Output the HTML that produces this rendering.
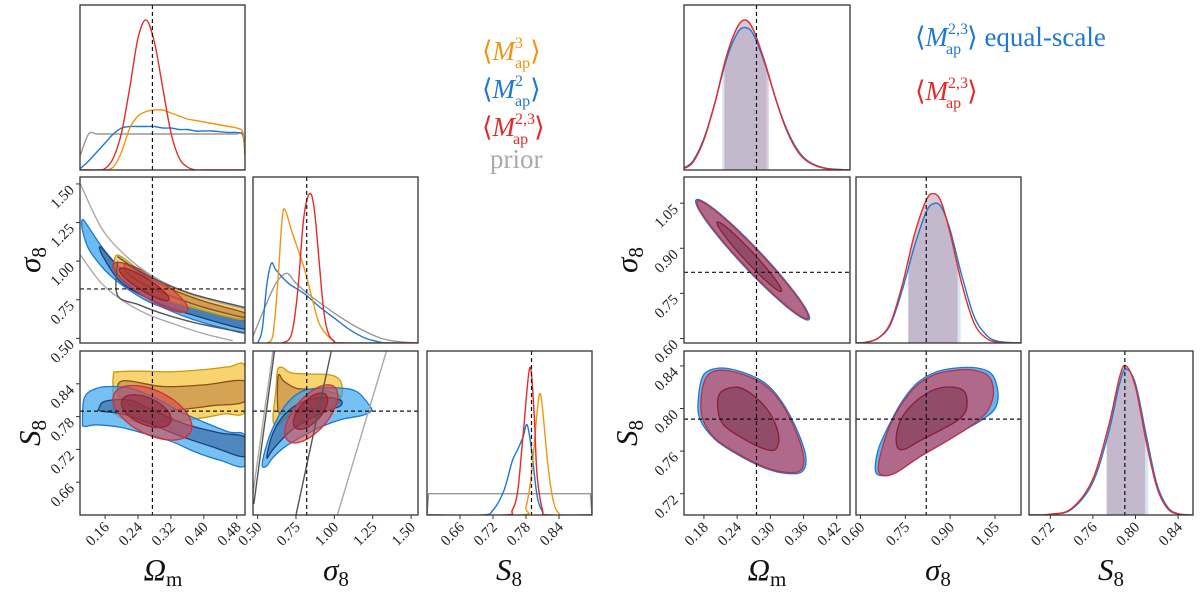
<!DOCTYPE html>
<html><head><meta charset="utf-8"><style>
html,body{margin:0;padding:0;background:#fff;}
svg{display:block;font-family:"Liberation Serif",serif;}
</style></head><body>
<svg id="chart" width="1200" height="596" viewBox="0 0 1200 596" xmlns="http://www.w3.org/2000/svg">
<g id="legend-left" font-size="27">
  <text x="482" y="60" fill="#f39410">⟨<tspan font-style="italic">M</tspan><tspan font-size="16" dy="-12">3</tspan><tspan font-size="16" dx="-8" dy="20">ap</tspan><tspan dy="-8">⟩</tspan></text>
  <text x="482" y="98" fill="#1f78d1">⟨<tspan font-style="italic">M</tspan><tspan font-size="16" dy="-12">2</tspan><tspan font-size="16" dx="-8" dy="20">ap</tspan><tspan dy="-8">⟩</tspan></text>
  <text x="482" y="136" fill="#e32b2b">⟨<tspan font-style="italic">M</tspan><tspan font-size="16" dy="-12">2,3</tspan><tspan font-size="16" dx="-22" dy="20">ap</tspan><tspan dy="-8" dx="6">⟩</tspan></text>
  <text x="490" y="168" fill="#aaaaaa">prior</text>
</g>
<g id="legend-right" font-size="27">
  <text x="915" y="46" fill="#1f78d1">⟨<tspan font-style="italic">M</tspan><tspan font-size="16" dy="-12">2,3</tspan><tspan font-size="16" dx="-22" dy="20">ap</tspan><tspan dy="-8" dx="6">⟩</tspan> equal-scale</text>
  <text x="915" y="100" fill="#e32b2b">⟨<tspan font-style="italic">M</tspan><tspan font-size="16" dy="-12">2,3</tspan><tspan font-size="16" dx="-22" dy="20">ap</tspan><tspan dy="-8" dx="6">⟩</tspan></text>
</g>
</svg>
<script>
// ---------- data ----------
const truthOm = 0.275, truthS8sig = 0.82, truthS8 = 0.79;
const ticksOmL = [0.16,0.24,0.32,0.40,0.48];
const ticksSigL = [0.50,0.75,1.00,1.25,1.50];
const ticksS8L = [0.66,0.72,0.78,0.84];
const ticksOmR = [0.18,0.24,0.30,0.36,0.42];
const ticksSigR = [0.60,0.75,0.90,1.05];
const ticksS8R = [0.72,0.76,0.80,0.84];

// left 1D Omega_m
const omGridL = [0.10,0.12,0.14,0.16,0.18,0.20,0.22,0.24,0.26,0.28,0.30,0.32,0.34,0.36,0.38,0.40,0.42,0.44,0.46,0.48,0.495,0.50];
const omRed = [0,0,0,0.01,0.08,0.25,0.55,0.88,1.0,0.85,0.55,0.25,0.08,0.02,0,0,0,0,0,0,0,0];
const omOrange = [0,0,0,0,0.02,0.12,0.28,0.36,0.39,0.40,0.40,0.38,0.36,0.34,0.33,0.32,0.31,0.30,0.29,0.28,0.25,0.10];
const omBlue = [0.01,0.06,0.12,0.18,0.24,0.28,0.29,0.29,0.29,0.29,0.28,0.28,0.27,0.27,0.26,0.26,0.26,0.255,0.25,0.25,0.23,0.10];
const omPrior = [0.10,0.24,0.24,0.24,0.24,0.24,0.24,0.24,0.24,0.24,0.24,0.24,0.24,0.24,0.24,0.24,0.24,0.24,0.24,0.24,0.24,0.10];

// left 1D sigma8
const sigRedX = [0.66,0.72,0.76,0.80,0.84,0.87,0.90,0.93,0.96,1.00,1.04,1.54];
const sigRedY = [0,0.05,0.3,0.75,0.90,0.8,0.5,0.2,0.06,0.01,0,0];
const sigOrX = [0.56,0.60,0.63,0.66,0.68,0.72,0.80,0.86,0.90,0.95,1.00,1.05,1.54];
const sigOrY = [0,0.05,0.35,0.75,0.80,0.68,0.46,0.25,0.12,0.05,0.01,0,0];
const sigBlX = [0.50,0.53,0.56,0.59,0.62,0.70,0.80,0.90,1.00,1.10,1.20,1.30,1.35,1.54];
const sigBlY = [0,0.08,0.35,0.48,0.44,0.36,0.30,0.22,0.15,0.08,0.03,0.005,0,0];
const sigGrX = [0.47,0.55,0.62,0.69,0.75,0.85,1.0,1.1,1.2,1.3,1.4,1.54];
const sigGrY = [0.04,0.22,0.36,0.42,0.36,0.28,0.18,0.12,0.07,0.03,0.01,0];

// left 1D S8
const s8RedX = [0.60,0.74,0.755,0.765,0.775,0.787,0.795,0.80,0.81,0.82,0.90];
const s8RedY = [0,0,0.03,0.15,0.5,0.9,0.6,0.25,0.03,0,0];
const s8OrX = [0.60,0.77,0.78,0.79,0.80,0.805,0.81,0.82,0.83,0.84,0.85,0.90];
const s8OrY = [0,0,0.05,0.25,0.62,0.74,0.65,0.3,0.08,0.01,0,0];
const s8BlX = [0.60,0.70,0.72,0.74,0.755,0.765,0.775,0.782,0.79,0.80,0.81,0.82,0.90];
const s8BlY = [0,0,0.03,0.15,0.33,0.40,0.48,0.55,0.40,0.12,0.02,0,0];
const s8PrX = [0.60,0.603,0.897,0.90];
const s8PrY = [0,0.13,0.13,0];

// left 2D contours (Omega_m, sigma8)
const osBlueOut = [[0.105,1.27],[0.12,1.22],[0.15,1.10],[0.18,1.0],[0.22,0.91],[0.26,0.85],[0.30,0.79],[0.35,0.73],[0.40,0.68],[0.45,0.645],[0.50,0.61],[0.50,0.535],[0.45,0.565],[0.40,0.60],[0.35,0.645],[0.30,0.70],[0.26,0.745],[0.22,0.81],[0.18,0.89],[0.15,0.97],[0.12,1.08],[0.105,1.2]];
const osBlueIn = [[0.15,1.09],[0.2,0.95],[0.28,0.82],[0.35,0.74],[0.5,0.625],[0.5,0.56],[0.35,0.67],[0.28,0.74],[0.2,0.86],[0.155,1.03]];
const osOrOut = [[0.19,1.04],[0.25,0.93],[0.30,0.86],[0.38,0.775],[0.50,0.69],[0.50,0.62],[0.40,0.68],[0.30,0.76],[0.24,0.84],[0.19,0.93]];
const osOrIn = [[0.21,0.98],[0.26,0.90],[0.32,0.82],[0.40,0.74],[0.50,0.665],[0.50,0.635],[0.40,0.70],[0.32,0.775],[0.26,0.84],[0.215,0.92]];
const osGreyA = [[0.10,1.50],[0.15,1.22],[0.20,1.06],[0.26,0.93],[0.32,0.84],[0.40,0.76],[0.50,0.69]];
const osGreyB = [[0.10,1.04],[0.15,0.86],[0.20,0.75],[0.26,0.66],[0.32,0.60],[0.40,0.53],[0.47,0.485]];
const osGreyC = [[0.19,1.03],[0.24,0.94],[0.30,0.86],[0.38,0.78],[0.50,0.70]];
const osGreyD = [[0.19,1.00],[0.19,0.78],[0.24,0.72],[0.30,0.66],[0.38,0.60],[0.50,0.535]];
const osRedOut = {c:[0.27,0.83], a:[0.09,-0.15], b:[-0.014,-0.06]};
const osRedIn = {c:[0.255,0.85], a:[0.06,-0.10], b:[-0.008,-0.035]};

// left 2D (Omega_m, S8)
const oSBlueOut = [[0.105,0.77],[0.11,0.815],[0.14,0.832],[0.18,0.835],[0.22,0.832],[0.28,0.815],[0.34,0.79],[0.40,0.77],[0.46,0.752],[0.50,0.745],[0.50,0.69],[0.44,0.70],[0.38,0.715],[0.32,0.735],[0.26,0.748],[0.20,0.76],[0.14,0.765],[0.11,0.762]];
const oSBlueIn = [[0.145,0.795],[0.16,0.808],[0.22,0.81],[0.28,0.79],[0.36,0.765],[0.44,0.75],[0.50,0.742],[0.50,0.707],[0.42,0.725],[0.34,0.745],[0.26,0.77],[0.20,0.785],[0.15,0.79]];
const oSOrOut = [[0.18,0.855],[0.19,0.862],[0.25,0.863],[0.32,0.862],[0.40,0.866],[0.46,0.871],[0.50,0.872],[0.50,0.790],[0.45,0.785],[0.40,0.778],[0.34,0.772],[0.28,0.770],[0.22,0.772],[0.185,0.785],[0.18,0.80]];
const oSOrIn = [[0.20,0.845],[0.30,0.835],[0.40,0.838],[0.50,0.845],[0.50,0.808],[0.42,0.80],[0.34,0.793],[0.26,0.795],[0.20,0.81]];
const oSRedOut = {c:[0.275,0.787], a:[0.095,-0.03], b:[0.012,0.04]};
const oSRedIn = {c:[0.26,0.79], a:[0.06,-0.018], b:[0.008,0.024]};

// left 2D (sigma8, S8)
const sSOrOut = [[0.60,0.775],[0.62,0.83],[0.63,0.865],[0.66,0.870],[0.72,0.86],[0.85,0.858],[0.98,0.856],[1.04,0.845],[1.05,0.82],[1.0,0.80],[0.90,0.79],[0.80,0.79],[0.70,0.78],[0.63,0.765]];
const sSOrIn = [[0.63,0.80],[0.635,0.855],[0.67,0.845],[0.75,0.832],[0.85,0.83],[0.98,0.825],[1.04,0.815],[1.0,0.80],[0.85,0.795],[0.72,0.79],[0.65,0.785]];
const sSBlueOut = [[0.53,0.69],[0.55,0.72],[0.60,0.76],[0.68,0.80],[0.78,0.825],[0.90,0.832],[1.05,0.832],[1.15,0.825],[1.23,0.80],[1.24,0.79],[1.18,0.782],[1.05,0.775],[0.92,0.762],[0.80,0.745],[0.68,0.725],[0.60,0.705],[0.56,0.69]];
const sSBlueIn = [[0.56,0.705],[0.60,0.75],[0.68,0.785],[0.80,0.808],[0.95,0.815],[1.04,0.81],[1.04,0.80],[0.95,0.79],[0.80,0.77],[0.70,0.75],[0.60,0.72]];
const sSGrey1 = [[0.47,0.64],[0.60,0.90]];
const sSGrey2 = [[0.475,0.62],[0.61,0.90]];
const sSGrey3 = [[0.75,0.60],[0.98,0.90]];
const sSGrey4 = [[1.02,0.60],[1.34,0.90]];
const sSRedOut = {c:[0.85,0.785], a:[0.17,0.04], b:[-0.03,0.035]};
const sSRedIn = {c:[0.845,0.79], a:[0.11,0.025], b:[-0.02,0.022]};

// right 1D
const rOmX = [0.144,0.16,0.18,0.20,0.22,0.24,0.255,0.27,0.29,0.31,0.33,0.35,0.37,0.40,0.444];
const rOmRed = [0.01,0.05,0.2,0.45,0.75,0.95,1.0,0.93,0.72,0.47,0.26,0.12,0.05,0.01,0];
const rOmBlue = [0.015,0.06,0.21,0.45,0.73,0.91,0.95,0.90,0.71,0.47,0.27,0.13,0.055,0.012,0];
const rOmBandRed = [0.217,0.297], rOmBandBlue = [0.213,0.293];
const rSigX = [0.585,0.62,0.66,0.70,0.74,0.78,0.82,0.845,0.87,0.90,0.94,0.98,1.02,1.06,1.137];
const rSigRed = [0,0.005,0.03,0.12,0.35,0.65,0.86,0.9,0.85,0.66,0.35,0.12,0.03,0.005,0];
const rSigBlue = [0,0.005,0.03,0.11,0.32,0.58,0.79,0.84,0.82,0.68,0.40,0.16,0.05,0.01,0];
const rSigBandRed = [0.76,0.925], rSigBandBlue = [0.76,0.935];
const rS8X = [0.70,0.72,0.74,0.76,0.775,0.785,0.791,0.80,0.81,0.82,0.83,0.84,0.854];
const rS8Red = [0,0.005,0.04,0.22,0.55,0.84,0.91,0.78,0.45,0.17,0.04,0.006,0];
const rS8Blue = [0,0.004,0.035,0.2,0.51,0.80,0.89,0.80,0.49,0.19,0.05,0.008,0];
const rS8BandRed = [0.773,0.809], rS8BandBlue = [0.773,0.812];

// right 2D
const rosOut = {c:[0.268,0.862], a:[0.10,-0.195], b:[0.013,0.022]};
const rosIn = {c:[0.262,0.872], a:[0.058,-0.115], b:[0.007,0.012]};
const rosBlueOut = {c:[0.268,0.862], a:[0.102,-0.199], b:[0.014,0.024]};
const roSOut = [[0.175,0.81],[0.185,0.83],[0.21,0.836],[0.25,0.832],[0.29,0.822],[0.32,0.805],[0.345,0.78],[0.36,0.755],[0.355,0.742],[0.33,0.74],[0.29,0.745],[0.24,0.758],[0.20,0.772],[0.178,0.79]];
const roSBlueOut = [[0.17,0.81],[0.18,0.832],[0.21,0.838],[0.25,0.834],[0.29,0.824],[0.32,0.807],[0.348,0.78],[0.364,0.755],[0.358,0.741],[0.33,0.739],[0.29,0.744],[0.24,0.757],[0.20,0.771],[0.173,0.79]];
const roSIn = [[0.205,0.80],[0.21,0.815],[0.24,0.82],[0.27,0.812],[0.30,0.795],[0.315,0.775],[0.31,0.762],[0.29,0.762],[0.25,0.772],[0.215,0.785]];
const rsSOut = [[0.66,0.742],[0.67,0.76],[0.70,0.785],[0.74,0.805],[0.79,0.822],[0.85,0.832],[0.92,0.836],[0.98,0.836],[1.03,0.83],[1.045,0.815],[1.03,0.80],[1.0,0.79],[0.95,0.78],[0.88,0.768],[0.80,0.755],[0.72,0.74],[0.68,0.737]];
const rsSBlueOut = [[0.65,0.742],[0.66,0.762],[0.70,0.787],[0.74,0.807],[0.79,0.824],[0.85,0.834],[0.92,0.838],[0.99,0.838],[1.04,0.832],[1.06,0.815],[1.05,0.80],[1.01,0.79],[0.95,0.78],[0.88,0.768],[0.80,0.755],[0.72,0.74],[0.67,0.737]];
const rsSIn = [[0.72,0.775],[0.74,0.792],[0.79,0.808],[0.85,0.818],[0.91,0.82],[0.95,0.815],[0.955,0.80],[0.93,0.79],[0.87,0.78],[0.80,0.77],[0.75,0.762],[0.725,0.763]];

// ---------- drawing ----------
const NS = "http://www.w3.org/2000/svg";
const svg = document.getElementById('chart');
function mk(tag, attrs, parent){ const e=document.createElementNS(NS,tag); for(const k in attrs) e.setAttribute(k,attrs[k]); (parent||svg).appendChild(e); return e; }

const colL = [[80,245],[253,418],[427,592]];
const colR = [[684,850],[856,1021],[1029,1193]];
const rows = [[5,170],[177,343],[351,515]];
const rngL = {om:[0.099,0.50], sig:[0.47,1.545], s8:[0.60,0.90]};
const rngR = {om:[0.144,0.444], sig:[0.585,1.137], s8:[0.70,0.854]};

function makePanel(name, px, py, xr, yr){
  const g = mk('g',{});
  
  
  const clipId = 'clip-'+name;
  const cp = mk('clipPath',{id:clipId}, g);
  mk('rect',{x:px[0],y:py[0],width:px[1]-px[0],height:py[1]-py[0]}, cp);
  const inner = mk('g',{'clip-path':'url(#'+clipId+')'}, g);
  return {g, inner, px, py, xr, yr,
    sx: v => px[0] + (v-xr[0])/(xr[1]-xr[0])*(px[1]-px[0]),
    sy: v => py[1] - (v-yr[0])/(yr[1]-yr[0])*(py[1]-py[0])};
}
function frame(P){
  const r = mk('rect',{x:P.px[0],y:P.py[0],width:P.px[1]-P.px[0],height:P.py[1]-P.py[0],fill:'none',stroke:'#333','stroke-width':1.3}, P.g);
  
  
}
// Catmull-Rom smoothing in pixel space
function smooth(pts, closed){
  const n = pts.length; if(n<3) return pts.map((p,i)=>(i?'L':'M')+p[0].toFixed(1)+','+p[1].toFixed(1)).join('')+(closed?'Z':'');
  const get = i => closed ? pts[(i+n)%n] : pts[Math.max(0,Math.min(n-1,i))];
  let d = 'M'+pts[0][0].toFixed(1)+','+pts[0][1].toFixed(1);
  const last = closed ? n : n-1;
  for(let i=0;i<last;i++){
    const p0=get(i-1),p1=get(i),p2=get(i+1),p3=get(i+2);
    const c1=[p1[0]+(p2[0]-p0[0])/6, p1[1]+(p2[1]-p0[1])/6];
    const c2=[p2[0]-(p3[0]-p1[0])/6, p2[1]-(p3[1]-p1[1])/6];
    d += 'C'+c1[0].toFixed(1)+','+c1[1].toFixed(1)+' '+c2[0].toFixed(1)+','+c2[1].toFixed(1)+' '+p2[0].toFixed(1)+','+p2[1].toFixed(1);
  }
  return d + (closed?'Z':'');
}
function px(P, pts){ return pts.map(p=>[P.sx(p[0]),P.sy(p[1])]); }
function ellPts(E){ const pts=[]; for(let i=0;i<72;i++){const t=i/72*2*Math.PI; pts.push([E.c[0]+E.a[0]*Math.cos(t)+E.b[0]*Math.sin(t), E.c[1]+E.a[1]*Math.cos(t)+E.b[1]*Math.sin(t)]);} return pts; }
function contour(P, pts, fill, op, stroke, name){
  const e = mk('path',{d:smooth(px(P,pts),true),fill:fill,'fill-opacity':op,stroke:stroke,'stroke-width':1.3}, P.inner);
  
  
}
function line(P, xs, ys, color, name, w, nosmooth){
  const pts = xs.map((x,i)=>[P.sx(x),P.sy(ys[i])]);
  const d = nosmooth ? pts.map((p,i)=>(i?'L':'M')+p[0].toFixed(1)+','+p[1].toFixed(1)).join('') : smooth(pts,false);
  const e = mk('path',{d, fill:'none', stroke:color, 'stroke-width':w||1.4}, P.inner);
  
  
}
function pline(P, pts, color, name, w){ line(P, pts.map(p=>p[0]), pts.map(p=>p[1]), color, name, w); }
function band(P, xs, ys, lo, hi, color, name){
  const interp = v => { for(let i=1;i<xs.length;i++){ if(v<=xs[i]){const t=(v-xs[i-1])/(xs[i]-xs[i-1]); return ys[i-1]+t*(ys[i]-ys[i-1]);} } return 0; };
  const pts=[[lo,interp(lo)]];
  xs.forEach((x,i)=>{ if(x>lo && x<hi) pts.push([x,ys[i]]); });
  pts.push([hi,interp(hi)]);
  const pp = px(P,pts);
  let d = smooth(pp,false) + 'L'+P.sx(hi).toFixed(1)+','+P.sy(0).toFixed(1)+'L'+P.sx(lo).toFixed(1)+','+P.sy(0).toFixed(1)+'Z';
  const e = mk('path',{d,fill:color,'fill-opacity':0.35,stroke:'none'}, P.inner);
  
  
}
function vtruth(P, v){ const x=P.sx(v); const e=mk('line',{x1:x,x2:x,y1:P.py[0],y2:P.py[1],stroke:'#111','stroke-width':1.2,'stroke-dasharray':'4,3'}, P.inner);   }
function htruth(P, v){ const y=P.sy(v); const e=mk('line',{x1:P.px[0],x2:P.px[1],y1:y,y2:y,stroke:'#111','stroke-width':1.2,'stroke-dasharray':'4,3'}, P.inner);   }
function xticks(P, ticks, name){
  ticks.forEach(t=>{ const x=P.sx(t);
    mk('line',{x1:x,x2:x,y1:P.py[1],y2:P.py[1]+4,stroke:'#333'}, P.g);
    const tx = mk('text',{x:x+5,y:P.py[1]+13,'font-size':15,'text-anchor':'end',transform:`rotate(-45 ${x+5} ${P.py[1]+13})`,fill:'#222'}, P.g);
    
    
    tx.textContent = t.toFixed(2); });
}
function yticks(P, ticks, name){
  ticks.forEach(t=>{ const y=P.sy(t);
    mk('line',{x1:P.px[0]-4,x2:P.px[0],y1:y,y2:y,stroke:'#333'}, P.g);
    const tx = mk('text',{x:P.px[0]-5,y:y+7,'font-size':15,'text-anchor':'end',transform:`rotate(-45 ${P.px[0]-5} ${y+7})`,fill:'#222'}, P.g);
    
    
    tx.textContent = t.toFixed(2); });
}
function label(x,y,main,sub,rot,name){
  const t = mk('text',{x,y,'font-size':31,'text-anchor':'middle',fill:'#111'});
  if(rot) t.setAttribute('transform',`rotate(-90 ${x} ${y})`);
  
  
  const a = mk('tspan',{'font-style':'italic'}, t); a.textContent = main;
  const b = mk('tspan',{'font-size':21, dy:6}, t); b.textContent = sub;
}

const ORx='#f39410', BLx='#1f78d1', RDx='#e32b2b';
let P;
// ---- LEFT ----
P = makePanel('left-omega-m-1d', colL[0], rows[0], rngL.om, [0,1.1]);
line(P, omGridL, omPrior, '#999', 'prior-curve');
line(P, omGridL, omBlue, BLx, 'map2-curve');
line(P, omGridL, omOrange, ORx, 'map3-curve');
line(P, omGridL, omRed, RDx, 'map23-curve');
vtruth(P, truthOm); frame(P);

P = makePanel('left-omega-sigma8-2d', colL[0], rows[1], rngL.om, rngL.sig);
contour(P, osBlueOut, '#3aa6ee', 0.75, '#1f78d1', 'map2-contour-outer');
contour(P, osBlueIn, '#2a4f8a', 0.55, '#1c3f78', 'map2-contour-inner');
contour(P, osOrOut, '#f5c230', 0.7, '#c89a10', 'map3-contour-outer');
contour(P, osOrIn, '#b87a40', 0.6, '#8a5020', 'map3-contour-inner');
contour(P, ellPts(osRedOut), '#d8454a', 0.6, '#d0303a', 'map23-contour-outer');
contour(P, ellPts(osRedIn), '#8a2030', 0.5, '#a02030', 'map23-contour-inner');
pline(P, osGreyA, '#aaa', 'prior-contour-outer-upper');
pline(P, osGreyB, '#aaa', 'prior-contour-outer-lower');
pline(P, osGreyC, '#555', 'prior-contour-inner-upper');
pline(P, osGreyD, '#555', 'prior-contour-inner-lower');
vtruth(P, truthOm); htruth(P, truthS8sig); frame(P);
yticks(P, ticksSigL, 'left-sigma8-y');

P = makePanel('left-omega-s8-2d', colL[0], rows[2], rngL.om, rngL.s8);
contour(P, oSOrOut, '#f5c230', 0.7, '#c89a10', 'map3-contour-outer');
contour(P, oSOrIn, '#b87a40', 0.55, '#8a5020', 'map3-contour-inner');
contour(P, oSBlueOut, '#3aa6ee', 0.7, '#1f78d1', 'map2-contour-outer');
contour(P, oSBlueIn, '#2a4f8a', 0.5, '#1c3f78', 'map2-contour-inner');
contour(P, ellPts(oSRedOut), '#d8454a', 0.6, '#d0303a', 'map23-contour-outer');
contour(P, ellPts(oSRedIn), '#8a2030', 0.5, '#a02030', 'map23-contour-inner');
vtruth(P, truthOm); htruth(P, truthS8); frame(P);
yticks(P, ticksS8L, 'left-s8-y'); xticks(P, ticksOmL, 'left-omega-m-x');

P = makePanel('left-sigma8-1d', colL[1], rows[1], rngL.sig, [0,1]);
line(P, sigGrX, sigGrY, '#999', 'prior-curve');
line(P, sigBlX, sigBlY, BLx, 'map2-curve');
line(P, sigOrX, sigOrY, ORx, 'map3-curve');
line(P, sigRedX, sigRedY, RDx, 'map23-curve');
vtruth(P, truthS8sig); frame(P);

P = makePanel('left-sigma8-s8-2d', colL[1], rows[2], rngL.sig, rngL.s8);
contour(P, sSOrOut, '#f5c230', 0.7, '#c89a10', 'map3-contour-outer');
contour(P, sSOrIn, '#b87a40', 0.55, '#8a5020', 'map3-contour-inner');
contour(P, sSBlueOut, '#3aa6ee', 0.7, '#1f78d1', 'map2-contour-outer');
contour(P, sSBlueIn, '#2a4f8a', 0.5, '#1c3f78', 'map2-contour-inner');
contour(P, ellPts(sSRedOut), '#d8454a', 0.6, '#d0303a', 'map23-contour-outer');
contour(P, ellPts(sSRedIn), '#8a2030', 0.5, '#a02030', 'map23-contour-inner');
pline(P, sSGrey1, '#aaa', 'prior-line');
pline(P, sSGrey2, '#555', 'prior-line');
pline(P, sSGrey3, '#555', 'prior-line');
pline(P, sSGrey4, '#aaa', 'prior-line');
vtruth(P, truthS8sig); htruth(P, truthS8); frame(P);
xticks(P, ticksSigL, 'left-sigma8-x');

P = makePanel('left-s8-1d', colL[2], rows[2], rngL.s8, [0,1]);
line(P, s8PrX, s8PrY, '#999', 'prior-curve', 1.4, true);
line(P, s8BlX, s8BlY, BLx, 'map2-curve');
line(P, s8OrX, s8OrY, ORx, 'map3-curve');
line(P, s8RedX, s8RedY, RDx, 'map23-curve');
vtruth(P, truthS8); frame(P);
xticks(P, ticksS8L, 'left-s8-x');

// ---- RIGHT ----
P = makePanel('right-omega-m-1d', colR[0], rows[0], rngR.om, [0,1.1]);
band(P, rOmX, rOmBlue, rOmBandBlue[0], rOmBandBlue[1], '#8fb8e0', 'band-blue');
band(P, rOmX, rOmRed, rOmBandRed[0], rOmBandRed[1], '#a06080', 'band-red');
line(P, rOmX, rOmBlue, BLx, 'equal-scale-curve');
line(P, rOmX, rOmRed, RDx, 'map23-curve');
vtruth(P, truthOm); frame(P);

P = makePanel('right-omega-sigma8-2d', colR[0], rows[1], rngR.om, rngR.sig);
contour(P, ellPts(rosBlueOut), '#3aa6ee', 0.8, '#1f78d1', 'equal-scale-contour-outer');
contour(P, ellPts(rosOut), '#b86080', 0.9, '#c03040', 'map23-contour-outer');
contour(P, ellPts(rosIn), '#6a2a40', 0.45, '#8a1f30', 'map23-contour-inner');
vtruth(P, truthOm); htruth(P, truthS8sig); frame(P);
yticks(P, ticksSigR, 'right-sigma8-y');

P = makePanel('right-omega-s8-2d', colR[0], rows[2], rngR.om, rngR.s8);
contour(P, roSBlueOut, '#3aa6ee', 0.8, '#1f78d1', 'equal-scale-contour-outer');
contour(P, roSOut, '#b86080', 0.9, '#c03040', 'map23-contour-outer');
contour(P, roSIn, '#6a2a40', 0.45, '#8a1f30', 'map23-contour-inner');
vtruth(P, truthOm); htruth(P, truthS8); frame(P);
yticks(P, ticksS8R, 'right-s8-y'); xticks(P, ticksOmR, 'right-omega-m-x');

P = makePanel('right-sigma8-1d', colR[1], rows[1], rngR.sig, [0,1]);
band(P, rSigX, rSigBlue, rSigBandBlue[0], rSigBandBlue[1], '#8fb8e0', 'band-blue');
band(P, rSigX, rSigRed, rSigBandRed[0], rSigBandRed[1], '#a06080', 'band-red');
line(P, rSigX, rSigBlue, BLx, 'equal-scale-curve');
line(P, rSigX, rSigRed, RDx, 'map23-curve');
vtruth(P, truthS8sig); frame(P);

P = makePanel('right-sigma8-s8-2d', colR[1], rows[2], rngR.sig, rngR.s8);
contour(P, rsSBlueOut, '#3aa6ee', 0.8, '#1f78d1', 'equal-scale-contour-outer');
contour(P, rsSOut, '#b86080', 0.9, '#c03040', 'map23-contour-outer');
contour(P, rsSIn, '#6a2a40', 0.45, '#8a1f30', 'map23-contour-inner');
vtruth(P, truthS8sig); htruth(P, truthS8); frame(P);
xticks(P, ticksSigR, 'right-sigma8-x');

P = makePanel('right-s8-1d', colR[2], rows[2], rngR.s8, [0,1]);
band(P, rS8X, rS8Blue, rS8BandBlue[0], rS8BandBlue[1], '#8fb8e0', 'band-blue');
band(P, rS8X, rS8Red, rS8BandRed[0], rS8BandRed[1], '#a06080', 'band-red');
line(P, rS8X, rS8Blue, BLx, 'equal-scale-curve');
line(P, rS8X, rS8Red, RDx, 'map23-curve');
vtruth(P, truthS8); frame(P);
xticks(P, ticksS8R, 'right-s8-x');

// axis titles
label(163, 580, 'Ω', 'm', false, 'left-x-title-omega-m');
label(336, 580, 'σ', '8', false, 'left-x-title-sigma8');
label(509, 580, 'S', '8', false, 'left-x-title-s8');
label(40, 260, 'σ', '8', true, 'left-y-title-sigma8');
label(40, 433, 'S', '8', true, 'left-y-title-s8');
label(767, 580, 'Ω', 'm', false, 'right-x-title-omega-m');
label(938, 580, 'σ', '8', false, 'right-x-title-sigma8');
label(1111, 580, 'S', '8', false, 'right-x-title-s8');
label(637, 260, 'σ', '8', true, 'right-y-title-sigma8');
label(637, 433, 'S', '8', true, 'right-y-title-s8');
</script>
</body></html>
